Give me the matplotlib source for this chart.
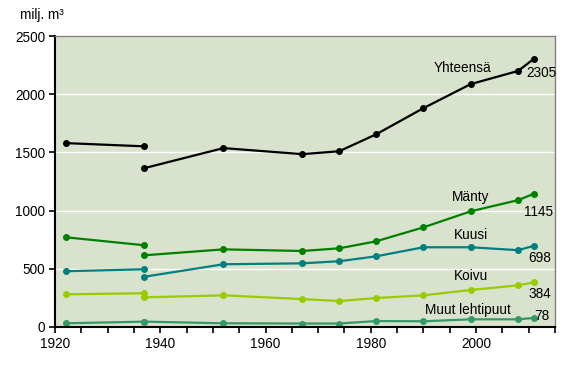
import matplotlib
matplotlib.use("Agg")
import matplotlib.pyplot as plt
import numpy as np

plt.rcParams["font.family"] = ["Liberation Sans", "DejaVu Sans"]

# inventory years; the 1937 point appears twice (old vs new method)
years_a = [1922, 1937]
years_b = [1937, 1952, 1967, 1974, 1981, 1990, 1999, 2008, 2011]

yhteensa_a = [1580, 1552]
yhteensa_b = [1365, 1537, 1485, 1510, 1655, 1880, 2087, 2200, 2305]
manty_a = [771, 702]
manty_b = [616, 667, 653, 676, 736, 856, 994, 1090, 1145]
kuusi_a = [479, 496]
kuusi_b = [432, 539, 547, 565, 607, 685, 685, 660, 698]
koivu_a = [281, 290]
koivu_b = [255, 272, 240, 223, 249, 272, 318, 358, 384]
muut_a = [32, 46]
muut_b = [46, 32, 30, 30, 51, 49, 66, 66, 78]

series = [
    ("Yhteensä", yhteensa_a, yhteensa_b, "#000000"),
    ("Mänty", manty_a, manty_b, "#008000"),
    ("Kuusi", kuusi_a, kuusi_b, "#008080"),
    ("Koivu", koivu_a, koivu_b, "#99CC00"),
    ("Muut lehtipuut", muut_a, muut_b, "#339966"),
]

# label positions (x year, y value) for series name and end value
name_pos = {"Yhteensä": (1997.5, 2225), "Mänty": (1999, 1117), "Kuusi": (1999, 790),
            "Koivu": (1999, 438), "Muut lehtipuut": (1998.5, 146)}
end_pos = {"Yhteensä": (2009.5, 2180), "Mänty": (2009.2, 985), "Kuusi": (2010.0, 593),
           "Koivu": (2010.0, 283), "Muut lehtipuut": (2011.0, 95)}

fs = 9.8

fig = plt.figure(figsize=(5.86, 3.74), dpi=100)
ax = fig.add_axes([55 / 586, 1 - 327 / 374, 500 / 586, 291 / 374])
ax.set_facecolor("#D9E2CC")

for name, va, vb, col in series:
    ax.plot(years_a, va, color=col, lw=1.6, marker="o", ms=4)
    ax.plot(years_b, vb, color=col, lw=1.6, marker="o", ms=4)
    nx, ny = name_pos[name]
    ax.text(nx, ny, name, ha="center", va="center", fontsize=fs)
    ex, ey = end_pos[name]
    ax.text(ex, ey, str(vb[-1]), ha="left", va="center", fontsize=fs)

ax.set_xlim(1920, 2015)
ax.set_ylim(0, 2500)
ax.set_xticks([1920, 1940, 1960, 1980, 2000])
ax.set_xticks(np.arange(1920, 2016, 5), minor=True)
ax.set_yticks([0, 500, 1000, 1500, 2000, 2500])
ax.yaxis.grid(True, color="white", lw=1)
ax.set_axisbelow(True)

for s in ["top", "right"]:
    ax.spines[s].set_color("#808080")
    ax.spines[s].set_linewidth(1)
for s in ["left", "bottom"]:
    ax.spines[s].set_color("black")
    ax.spines[s].set_linewidth(1.5)

ax.tick_params(axis="both", direction="out", length=4, width=1.2, labelsize=fs, pad=3)
ax.tick_params(axis="x", which="minor", direction="out", length=4, width=1.2)

fig.text(20 / 586, 1 - 15 / 374, "milj. m³", ha="left", va="center", fontsize=fs)

plt.savefig("out.png", dpi=100)
